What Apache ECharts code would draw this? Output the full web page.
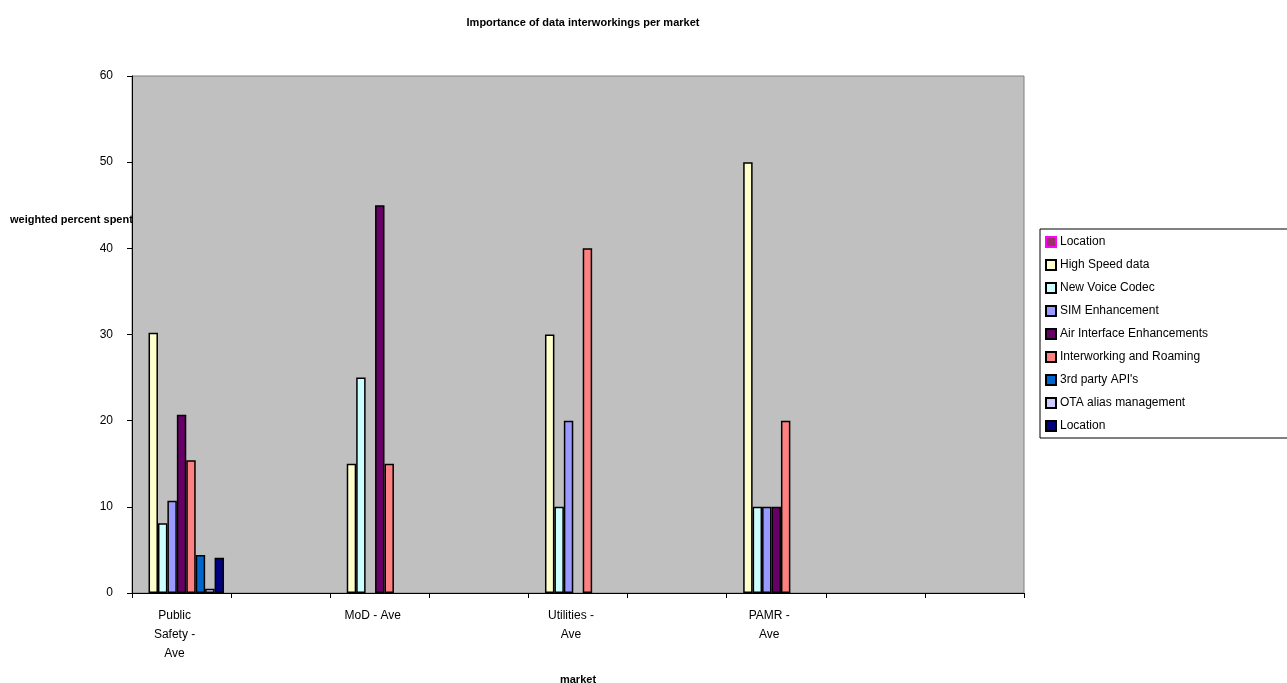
<!DOCTYPE html>
<html>
<head>
<meta charset="utf-8">
<script src="https://cdn.jsdelivr.net/npm/echarts@6/dist/echarts.min.js"></script>
<style>
  html, body { margin: 0; padding: 0; background: #ffffff; }
  #chart { width: 1287px; height: 683px; }
</style>
</head>
<body>
<div id="chart"></div>
<script>
// Market categories (axis labels, wrapped as shown under the axis)
const categories = ['Public\nSafety -\nAve', '', 'MoD - Ave', '', 'Utilities -\nAve', '', 'PAMR -\nAve', '', ''];

// Series names, in legend order
const seriesNames = ['Location', 'High Speed data', 'New Voice Codec', 'SIM Enhancement',
  'Air Interface Enhancements', 'Interworking and Roaming', "3rd party API's",
  'OTA alias management', 'Location'];

// Weighted percent spent per market
const locationA     = [null, null, null, null, null, null, null, null, null];
const highSpeed     = [30.2, null, 15, null, 30, null, 50, null, null];
const newVoiceCodec = [8.1, null, 25, null, 10, null, 10, null, null];
const simEnh        = [10.7, null, null, null, 20, null, 10, null, null];
const airInterface  = [20.7, null, 45, null, null, null, 10, null, null];
const interworking  = [15.4, null, 15, null, 40, null, 20, null, null];
const thirdParty    = [4.4, null, null, null, null, null, null, null, null];
const otaAlias      = [0.5, null, null, null, null, null, null, null, null];
const locationB     = [4.1, null, null, null, null, null, null, null, null];

const yTicks = { min: 0, max: 60, interval: 10 };

const seriesData = [locationA, highSpeed, newVoiceCodec, simEnh, airInterface,
  interworking, thirdParty, otaAlias, locationB];
const fills   = ['#993366', '#FFFFCC', '#CCFFFF', '#9999FF', '#660066', '#FF8080', '#0066CC', '#CCCCFF', '#000080'];
const borders = ['#FF00FF', '#000000', '#000000', '#000000', '#000000', '#000000', '#000000', '#000000', '#000000'];

const FONT = '"Liberation Sans", Arial, sans-serif';

// Unique internal keys so both "Location" entries get their own legend row
const keys = seriesNames.map((n, i) => n + '#' + i);

const chart = echarts.init(document.getElementById('chart'), null, { renderer: 'canvas' });

chart.setOption({
  backgroundColor: '#ffffff',
  animation: false,
  title: {
    text: 'Importance of data interworkings per market',
    left: 578,
    textAlign: 'center',
    top: 12,
    textStyle: { fontFamily: FONT, fontSize: 11, fontWeight: 'bold', color: '#000' }
  },
  graphic: [{
    type: 'text',
    left: 10,
    top: 214,
    style: { text: 'weighted percent spent', font: 'bold 11px ' + FONT, fill: '#000' }
  }],
  legend: {
    orient: 'vertical',
    left: 1040,
    top: 229,
    padding: [7, 300, 6, 5],
    itemGap: 11,
    itemWidth: 10,
    itemHeight: 10,
    icon: 'rect',
    borderColor: '#000',
    borderWidth: 1,
    selectedMode: false,
    data: keys,
    formatter: (name) => name.replace(/#\d+$/, ''),
    textStyle: { fontFamily: FONT, fontSize: 12, color: '#000', lineHeight: 12, padding: [0, 0, 0, -1] }
  },
  grid: {
    left: 132,
    right: 263,
    top: 76,
    bottom: 90,
    containLabel: false,
    outerBoundsMode: 'none',
    show: true,
    backgroundColor: '#C0C0C0',
    borderColor: '#808080',
    borderWidth: 1
  },
  xAxis: {
    type: 'category',
    data: categories,
    boundaryGap: true,
    name: 'market',
    nameLocation: 'middle',
    nameGap: 81,
    nameTextStyle: { fontFamily: FONT, fontSize: 11, fontWeight: 'bold', color: '#000' },
    axisLine: { lineStyle: { color: '#000', width: 1 } },
    axisTick: { show: true, length: 5, inside: false, lineStyle: { color: '#000' } },
    axisLabel: {
      interval: 0,
      margin: 13,
      fontFamily: FONT,
      fontSize: 12,
      color: '#000',
      lineHeight: 19,
      padding: [0, 14, 0, 0]
    },
    splitLine: { show: false }
  },
  yAxis: {
    type: 'value',
    min: yTicks.min,
    max: yTicks.max,
    interval: yTicks.interval,
    axisLine: { show: true, lineStyle: { color: '#000', width: 1 } },
    axisTick: { show: true, length: 5, lineStyle: { color: '#000' } },
    axisLabel: { margin: 19, fontFamily: FONT, fontSize: 12, color: '#000' },
    splitLine: { show: false }
  },
  series: seriesData.map((d, i) => ({
    name: keys[i],
    type: 'bar',
    data: d,
    barGap: '0%',
    barCategoryGap: '14.3%',
    itemStyle: { color: fills[i], borderColor: borders[i], borderWidth: 1.5 }
  }))
});
</script>
</body>
</html>
